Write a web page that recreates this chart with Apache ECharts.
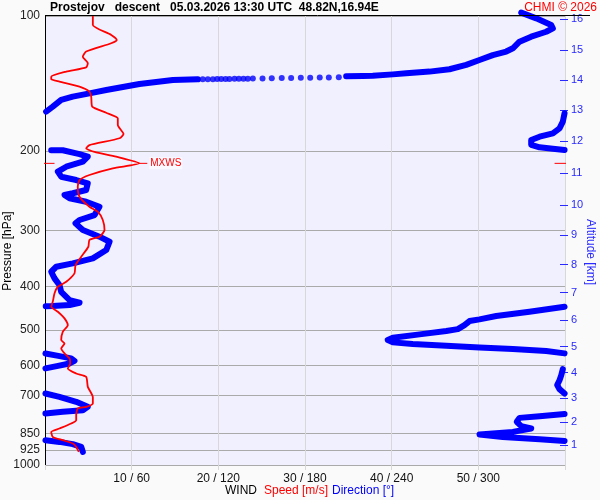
<!DOCTYPE html>
<html><head><meta charset="utf-8">
<script src="https://cdn.jsdelivr.net/npm/echarts@6/dist/echarts.min.js"></script>
<style>html,body{margin:0;padding:0;background:#fafafa}#c{width:600px;height:500px}</style>
</head><body><div id="c"></div>
<script>
// ---------- DATA ----------
const titleText = 'Prostejov   descent   05.03.2026 13:30 UTC  48.82N,16.94E';
const creditText = 'CHMI \u00a9 2026';
const pressureTicks = [100, 200, 300, 400, 500, 600, 700, 850, 925, 1000];
const speedTicks = [10, 20, 30, 40, 50];
const directionTicks = [60, 120, 180, 240, 300];
const altitudeKm = [1, 2, 3, 4, 5, 6, 7, 8, 9, 10, 11, 12, 13, 14, 15, 16];
const altitudePressure = [902.6, 802, 709.3, 622.9, 545.2, 474.8, 413.3, 358, 307.4, 263.6, 223.7, 189.8, 162.0, 138.8, 119.2, 101.5];

// wind speed profile [m/s] vs pressure [hPa]
const speedPressure = [100, 104.7, 110.2, 113.1, 115.0, 120.0, 123.2, 127.4, 130.1, 133.0, 136.5, 138.3, 140.0, 143.7, 147.4, 151.2, 159.2, 164.2, 169.0, 174.9, 183.1, 187.2, 193.8, 197.1, 200.8, 205.7, 212.9, 218.4, 226.0, 231.9, 240.0, 252.6, 266.0, 272.8, 284.7, 299.7, 310.1, 315.4, 326.5, 343.7, 358.8, 374.3, 390.8, 400.9, 414.6, 432.5, 444.2, 455.7, 471.4, 488.1, 505.0, 527.0, 536.2, 549.9, 564.1, 578.9, 594.1, 609.5, 625.5, 636.3, 669.8, 706.1, 729.3, 742.2, 748.3, 774.3, 794.6, 808.2, 829.3, 843.9, 865.8, 880.6, 895.6, 911.3, 935.0];
const speedValues = [5.52, 5.52, 7.64, 8.28, 7.64, 4.75, 4.36, 4.94, 4.75, 2.45, 0.72, 0.72, 1.67, 3.98, 5.13, 5.33, 5.45, 7.06, 8.40, 8.40, 9.06, 8.60, 5.13, 4.75, 5.71, 8.21, 10.90, 7.82, 5.13, 3.98, 3.78, 3.98, 5.13, 6.09, 6.67, 6.87, 6.29, 5.13, 5.0, 4.18, 3.52, 3.40, 2.45, 1.48, 1.10, 0.90, 0.72, 1.48, 2.25, 2.63, 2.05, 1.87, 2.25, 1.87, 2.25, 2.83, 2.91, 2.63, 3.60, 4.75, 4.94, 5.52, 5.52, 4.75, 3.78, 3.60, 3.60, 3.02, 1.67, 0.72, 0.90, 2.05, 3.21, 3.60, 3.90];

// maximum wind
const maxWind = { speed: 10.9, pressure: 212.9, label: 'MXWS' };

// wind direction [deg] vs pressure [hPa]; pieces split where direction wraps 0/360
const dirSegA = [[98.3, 329.7], [101.2, 340.1], [104.7, 350.4], [106.5, 351.6], [108.4, 347.0], [111.2, 336.6], [114.1, 328.5], [118.0, 323.9], [120.0, 319.3], [122.2, 310.0], [125.3, 300.8], [128.5, 291.6], [131.4, 280.0], [133.0, 266.2], [134.2, 250.1], [134.9, 240.8], [135.8, 226.9], [136.0, 220.0], [136.2, 208.5]];
const dirDots = [[136.9, 203.4], [137.0, 196.5], [137.1, 190.2], [137.2, 183.6], [137.3, 177.1], [137.4, 170.4], [137.5, 163.9], [137.6, 157.0], [137.7, 150.6], [137.8, 143.9], [137.9, 140.4], [137.9, 137.4], [138.0, 134.2], [138.0, 131.2], [138.1, 127.7], [138.1, 125.0], [138.2, 122.0], [138.2, 119.2], [138.3, 116.2], [138.3, 112.7], [138.3, 109.2]];
const dirSegB = [[138.4, 105.8], [138.8, 88.5], [141.7, 65.4], [146.2, 42.4], [148.7, 30.8], [151.2, 19.2], [153.8, 11.2], [159.2, 5.4], [163.3, 0.8]];
const dirSegC = [[164.6, 359.7], [171.9, 358.5], [177.9, 356.2], [182.5, 351.6], [185.7, 342.4], [188.8, 336.6], [193.6, 336.6], [196.1, 342.4], [197.5, 351.6], [198.8, 359.7]];
const dirSegD = [[199.1, 4.3], [199.1, 12.3], [203.0, 23.9], [205.7, 29.6], [211.1, 26.2], [216.6, 14.7], [222.2, 8.9], [228.0, 11.2], [231.9, 21.6], [235.9, 29.6], [244.1, 28.5], [248.2, 19.2], [250.4, 13.5], [254.7, 17.0], [259.2, 28.5], [266.0, 37.7], [277.6, 34.3], [284.7, 23.9], [289.6, 21.1], [299.7, 26.2], [310.1, 37.7], [318.2, 44.7], [332.1, 42.4], [346.6, 33.1], [355.6, 19.2], [361.8, 7.8], [371.2, 4.3], [384.0, 6.6], [397.4, 10.0], [411.3, 11.2], [429.2, 17.0], [435.1, 23.9], [440.3, 17.0], [442.6, 5.4], [443.1, 0.5]];
const dirSegE = [[444.2, 359.7], [455.7, 335.4], [465.9, 312.4], [473.9, 300.8], [478.0, 293.9], [488.1, 290.4], [498.2, 285.8], [503.2, 277.8], [511.8, 259.3], [520.8, 240.8], [527.0, 237.3], [533.2, 240.8], [537.8, 254.6], [542.5, 277.8], [547.2, 300.8], [551.9, 323.9], [557.6, 347.0], [564.1, 359.7]];
const dirSegF = [[564.6, 0.3], [571.5, 9.2], [578.9, 18.1], [586.1, 20.4], [594.1, 17.0], [601.6, 9.0], [609.4, 0.3]];
const dirSegG = [[611.6, 358.5], [630.8, 357.4], [647.2, 356.2], [663.8, 354.6], [677.7, 356.2], [692.9, 359.7]];
const dirSegH = [[692.9, 0.3], [705.0, 10.0], [723.4, 21.6], [742.2, 29.6], [745.5, 30.8], [754.8, 26.2], [761.3, 12.3], [767.7, 0.3]];
const dirSegI = [[770.3, 359.7], [778.5, 342.4], [785.3, 328.5], [801.4, 326.6], [819.5, 329.7], [829.2, 336.6], [843.8, 323.9], [855.6, 300.8], [865.8, 316.9], [876.1, 342.4], [883.7, 359.7]];
const dirSegJ = [[880.6, 0.3], [888.3, 10.0], [898.6, 19.2], [911.4, 25.1], [935.0, 26.2]];

// ---------- CHART ----------
const FONT = '"Liberation Sans", Arial, sans-serif';
const L = v => Math.log10(v);
const near = (a, b) => Math.abs(a - b) < 1e-6;
const chart = echarts.init(document.getElementById('c'));

const BLUE = '#0000ff', RED = '#ff0000';
const series = [];
[dirSegA, dirSegB, dirSegC, dirSegD, dirSegE, dirSegF, dirSegG, dirSegH, dirSegI, dirSegJ].forEach(seg => {
  series.push({
    type: 'line', xAxisIndex: 1, yAxisIndex: 0, clip: false, silent: true,
    data: seg.map(([p, d]) => [d, L(p)]),
    symbol: 'none', lineStyle: { color: BLUE, width: 6, cap: 'round', join: 'round' }, z: 2
  });
});
series.push({
  type: 'scatter', xAxisIndex: 1, yAxisIndex: 0, silent: true, clip: false,
  data: dirDots.map(([p, d]) => [d, L(p)]),
  symbolSize: 6, itemStyle: { color: BLUE }, z: 2
});
series.push({
  type: 'line', xAxisIndex: 0, yAxisIndex: 0, silent: true,
  data: speedPressure.map((p, i) => [speedValues[i], L(p)]),
  symbol: 'none', smooth: 0.2, lineStyle: { color: RED, width: 1.8 }, z: 3
});
const my = L(maxWind.pressure);
const redTick = (d, extra) => Object.assign({ type: 'line', xAxisIndex: 0, yAxisIndex: 0, clip: false, silent: true, symbol: 'none', data: d, lineStyle: { color: RED, width: 1 }, z: 4 }, extra || {});
series.push(redTick([[-0.3, my], [1.1, my]]));
series.push(redTick([[58.8, my], [60.3, my]]));
series.push(redTick([[maxWind.speed, my], [maxWind.speed + 0.9, my]], {
  endLabel: { show: true, distance: 2, formatter: maxWind.label, color: RED, fontSize: 10, fontFamily: FONT, backgroundColor: 'rgba(255,255,255,0.6)', padding: [1, 1] }
}));

const option = {
  animation: false,
  backgroundColor: '#fafafa',
  grid: { left: 45, right: 35, top: 16, bottom: 35, show: true, backgroundColor: '#f0f0ff', borderWidth: 0 },
  xAxis: [
    {
      type: 'value', min: 0, max: 60, interval: 10, position: 'bottom',
      axisLine: { show: false, onZero: false },
      axisTick: { show: true, length: 5, lineStyle: { color: '#d8d8d8' } },
      axisLabel: {
        margin: 8, color: '#111', fontSize: 12, fontFamily: FONT,
        formatter: v => { const i = speedTicks.indexOf(v); return i < 0 ? '' : speedTicks[i] + ' / ' + directionTicks[i]; }
      },
      splitLine: { show: true, lineStyle: { color: '#d8d8d8', width: 1 } }
    },
    { type: 'value', min: 0, max: 360, show: false, position: 'top', axisLine: { onZero: false } }
  ],
  yAxis: [
    {
      type: 'value', min: 2, max: 3, inverse: true, position: 'left',
      axisLine: { show: true, onZero: false, lineStyle: { color: '#000', width: 1 } },
      axisTick: { show: false, customValues: pressureTicks.map(L) },
      axisLabel: {
        customValues: pressureTicks.map(L), margin: 5, color: '#222', fontSize: 12, fontFamily: FONT,
        formatter: v => { const p = pressureTicks.find(t => near(L(t), v)); return p === undefined ? '' : String(p); }
      },
      splitLine: { show: true, lineStyle: { color: '#aaaaaa', width: 1 } }
    },
    {
      type: 'value', min: 2, max: 3, inverse: true, position: 'right', offset: -5,
      axisLine: { show: false, onZero: false },
      axisTick: { show: true, length: 8, customValues: altitudePressure.map(L), lineStyle: { color: '#2a2aff', width: 1 } },
      axisLabel: {
        customValues: altitudePressure.map(L), margin: 11, color: '#2a2aff', fontSize: 11, fontFamily: FONT,
        formatter: v => { const i = altitudePressure.findIndex(t => near(L(t), v)); return i < 0 ? '' : String(altitudeKm[i]); }
      },
      splitLine: { show: false }
    }
  ],
  graphic: [
    { type: 'line', shape: { x1: 45, y1: 15.5, x2: 590, y2: 15.5 }, style: { stroke: '#000', lineWidth: 1 }, z: 10 },
    { type: 'text', x: 50, y: 7.5, style: { text: titleText, font: 'bold 12px ' + FONT, fill: '#000', verticalAlign: 'middle' } },
    { type: 'text', x: 597, y: 7.5, style: { text: creditText, font: '12px ' + FONT, fill: RED, align: 'right', verticalAlign: 'middle' } },
    { type: 'text', x: 8, y: 251, rotation: Math.PI / 2, style: { text: 'Pressure [hPa]', font: '12px ' + FONT, fill: '#000', align: 'center', verticalAlign: 'middle' } },
    { type: 'text', x: 590, y: 252, rotation: -Math.PI / 2, style: { text: 'Altitude [km]', font: '12px ' + FONT, fill: '#2a2aff', align: 'center', verticalAlign: 'middle' } },
    { type: 'text', x: 225, y: 491, style: { text: 'WIND', font: '12px ' + FONT, fill: '#000', verticalAlign: 'middle' } },
    { type: 'text', x: 264, y: 491, style: { text: 'Speed [m/s]', font: '12px ' + FONT, fill: RED, verticalAlign: 'middle' } },
    { type: 'text', x: 332, y: 491, style: { text: 'Direction [\u00b0]', font: '12px ' + FONT, fill: BLUE, verticalAlign: 'middle' } }
  ],
  series: series
};
chart.setOption(option);
</script></body></html>
